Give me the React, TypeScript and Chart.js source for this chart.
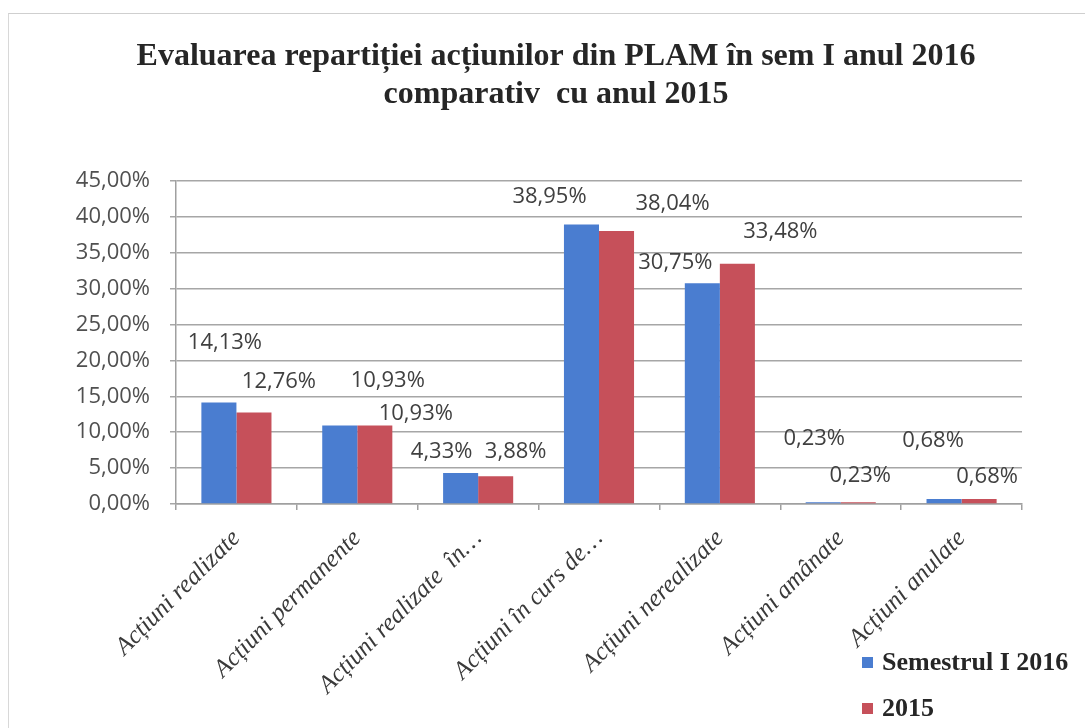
import React, { useEffect, useRef } from "react";
import { Chart, registerables } from "chart.js";

Chart.register(...registerables);

const categories = [
  "Acțiuni realizate",
  "Acțiuni permanente",
  "Acțiuni realizate  în…",
  "Acțiuni în curs de…",
  "Acțiuni nerealizate",
  "Acțiuni amânate",
  "Acțiuni anulate",
];
const seriesNames = ["Semestrul I 2016", "2015"];
const sem2016 = [14.13, 10.93, 4.33, 38.95, 30.75, 0.23, 0.68];
const year2015 = [12.76, 10.93, 3.88, 38.04, 33.48, 0.23, 0.68];
const titleLines = [
  "Evaluarea repartiției acțiunilor din PLAM în sem I anul 2016",
  "comparativ  cu anul 2015",
];
const yMax = 45;
const yStep = 5;

const colors = ["#4a7dd0", "#c6505a"];

// label placement tweaks (pixels, relative to bar top centre)
const labelOffsets = [
  [[6, -60], [48, -45], [-19, -21], [-32, -28], [-27, -21], [-9, -64], [-11, -58]],
  [[25, -31], [41, -12], [20, -24], [56, -27], [43, -32], [2, -27], [8, -22]],
];

const fmt = (v: number) => v.toFixed(2).replace(".", ",") + "%";

const valueLabels = {
  id: "valueLabels",
  afterDatasetsDraw(chart: any) {
    const ctx = chart.ctx;
    ctx.save();
    ctx.font = '22px "Open Sans"';
    ctx.fillStyle = "#404040";
    ctx.textAlign = "center";
    ctx.textBaseline = "middle";
    chart.data.datasets.forEach((ds: any, di: number) => {
      const meta = chart.getDatasetMeta(di);
      meta.data.forEach((bar: any, i: number) => {
        const off = labelOffsets[di][i];
        ctx.fillText(fmt(ds.data[i]), bar.x + off[0], bar.y + off[1]);
      });
    });
    ctx.restore();
  },
};

const titleBlock = {
  id: "titleBlock",
  afterDraw(chart: any) {
    const ctx = chart.ctx;
    ctx.save();
    ctx.font = 'bold 32px "Liberation Serif"';
    ctx.fillStyle = "#262626";
    ctx.textAlign = "center";
    ctx.textBaseline = "middle";
    titleLines.forEach((line, i) => {
      ctx.fillText(line, 556, 57 + i * 38);
    });
    ctx.restore();
  },
};

const sideLegend = {
  id: "sideLegend",
  afterDraw(chart: any) {
    const ctx = chart.ctx;
    const a = chart.chartArea;
    ctx.save();
    ctx.font = 'bold 26px "Liberation Serif"';
    ctx.textBaseline = "middle";
    ctx.textAlign = "left";
    chart.data.datasets.forEach((ds: any, i: number) => {
      const y = a.bottom + 158 + i * 46;
      ctx.fillStyle = ds.backgroundColor;
      ctx.fillRect(a.right - 160, y - 5, 11, 11);
      ctx.fillStyle = "#262626";
      ctx.fillText(ds.label, a.right - 140, y + 1);
    });
    ctx.restore();
  },
};

export default function App() {
  const ref = useRef<HTMLCanvasElement | null>(null);
  useEffect(() => {
    if (!ref.current) return;
    const chart = new Chart(ref.current, {
      type: "bar",
      data: {
        labels: categories,
        datasets: [
          { label: seriesNames[0], data: sem2016, backgroundColor: colors[0] },
          { label: seriesNames[1], data: year2015, backgroundColor: colors[1] },
        ],
      },
      options: {
        responsive: false,
        animation: false,
        layout: { padding: { left: 0, right: 70, top: 181, bottom: 0 } },
        datasets: { bar: { categoryPercentage: 0.58, barPercentage: 1.0 } },
        plugins: {
          legend: { display: false },
          tooltip: { enabled: false },
          title: { display: false },
        },
        scales: {
          x: {
            afterFit: (s: any) => { s.height = 224; },
            grid: { display: true, drawOnChartArea: false, drawTicks: true, tickLength: 6, color: "#a0a0a0", lineWidth: 1.5 },
            border: { display: true, color: "#a0a0a0", width: 1.5 },
            ticks: {
              autoSkip: false,
              minRotation: 45,
              maxRotation: 45,
              padding: 14,
              color: "#3a3a3a",
              font: { family: "Liberation Serif", size: 25, style: "italic" },
            },
          },
          y: {
            min: 0,
            max: yMax,
            afterFit: (s: any) => { s.width = 176; },
            grid: { color: "#a6a6a6", lineWidth: 1.5, drawTicks: true, tickLength: 6 },
            border: { display: true, color: "#a0a0a0", width: 1.5 },
            ticks: {
              stepSize: yStep,
              padding: 20,
              color: "#505050",
              font: { family: "Open Sans", size: 22 },
              callback: (v: any) => fmt(Number(v)),
            },
          },
        },
      },
      plugins: [valueLabels, titleBlock, sideLegend],
    });
    return () => chart.destroy();
  }, []);
  return (
    <div style={{ position: "fixed", left: 0, top: 0, width: 1092, height: 728, background: "#fff" }}>
      <div style={{ position: "absolute", left: 8, top: 13, width: 1076, height: 714, borderTop: "1.5px solid #cfcfcf", borderLeft: "1.5px solid #d8d8d8" }} />
      <canvas ref={ref} width={1092} height={728} style={{ position: "absolute", left: 0, top: 0 }} />
    </div>
  );
}
